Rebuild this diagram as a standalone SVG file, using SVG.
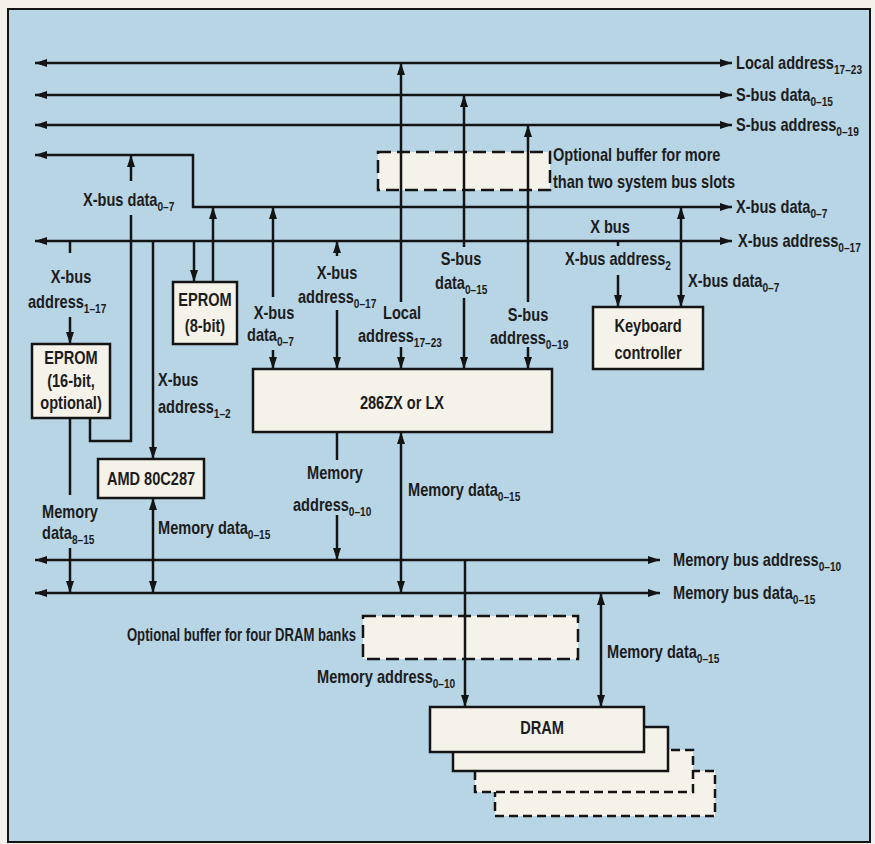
<svg xmlns="http://www.w3.org/2000/svg" width="875" height="844" viewBox="0 0 875 844">
<defs>
<style>
.ln{fill:none;stroke:#141414;stroke-width:2.5}
.box{fill:#f5f2ea;stroke:#141414;stroke-width:2.5}
.dbox{fill:#f5f2ea;stroke:#141414;stroke-width:2.5;stroke-dasharray:13 6}
.ddram{fill:#f5f2ea;stroke:#141414;stroke-width:2.5;stroke-dasharray:9 5}
.t{font-family:"Liberation Sans",Arial,sans-serif;font-weight:bold;font-size:18px;fill:#1c1c1c}
.c{text-anchor:middle}
.e{text-anchor:end}
.s{font-size:12.5px}
</style>
<marker id="ah" viewBox="0 0 12 8" refX="12" refY="4" markerWidth="12" markerHeight="8" markerUnits="userSpaceOnUse" orient="auto-start-reverse">
<path d="M0,0 L12,4 L0,8 z" fill="#141414"/>
</marker>
</defs>
<rect x="0" y="0" width="875" height="844" fill="#f2f0e8"/>
<rect x="8" y="9" width="862" height="833" fill="#b8d5e6" stroke="#141414" stroke-width="2"/>

<g id="buffer-system">
<rect class="dbox" x="378" y="152" width="172" height="38"/>
<text class="t" transform="translate(553,161) scale(0.81,1)">Optional buffer for more</text>
<text class="t" transform="translate(553,188) scale(0.81,1)">than two system bus slots</text>
</g>
<g id="buffer-dram">
<rect class="dbox" x="363" y="616" width="215" height="43"/>
<text class="t e" transform="translate(356,641) scale(0.73,1)">Optional buffer for four DRAM banks</text>
</g>

<g id="connectors">
<path class="ln" marker-start="url(#ah)" marker-end="url(#ah)" d="M35,63 H732"/>
<path class="ln" marker-start="url(#ah)" marker-end="url(#ah)" d="M35,95 H732"/>
<path class="ln" marker-start="url(#ah)" marker-end="url(#ah)" d="M35,125 H732"/>
<path class="ln" marker-start="url(#ah)" marker-end="url(#ah)" d="M35,155 H193 V207 H732"/>
<path class="ln" marker-start="url(#ah)" marker-end="url(#ah)" d="M35,241 H732"/>
<path class="ln" marker-start="url(#ah)" marker-end="url(#ah)" d="M35,560 H660"/>
<path class="ln" marker-start="url(#ah)" marker-end="url(#ah)" d="M35,593 H660"/>

<path class="ln" marker-end="url(#ah)" d="M401,302 V63"/>
<path class="ln" marker-end="url(#ah)" d="M401,347 V369"/>
<path class="ln" marker-end="url(#ah)" d="M464,247 V95"/>
<path class="ln" marker-end="url(#ah)" d="M464,298 V369"/>
<path class="ln" marker-end="url(#ah)" d="M528,302 V125"/>
<path class="ln" marker-end="url(#ah)" d="M528,347 V369"/>
<path class="ln" marker-end="url(#ah)" d="M337,256 V241"/>
<path class="ln" marker-end="url(#ah)" d="M337,310 V369"/>
<path class="ln" marker-end="url(#ah)" d="M273,297 V207"/>
<path class="ln" marker-end="url(#ah)" d="M273,350 V369"/>
<path class="ln" marker-end="url(#ah)" d="M194,241 V282"/>
<path class="ln" marker-end="url(#ah)" d="M213,282 V207"/>
<path class="ln" d="M70,241 V253"/>
<path class="ln" marker-end="url(#ah)" d="M70,317 V344"/>
<path class="ln" d="M90,418 V441 H131 V215"/>
<path class="ln" marker-end="url(#ah)" d="M131,181 V155"/>
<path class="ln" marker-end="url(#ah)" d="M153,241 V459"/>
<path class="ln" d="M70,418 V495"/>
<path class="ln" marker-end="url(#ah)" d="M70,548 V593"/>
<path class="ln" marker-start="url(#ah)" marker-end="url(#ah)" d="M153,593 V498"/>
<path class="ln" d="M337,432 V460"/>
<path class="ln" marker-end="url(#ah)" d="M337,515 V560"/>
<path class="ln" marker-start="url(#ah)" marker-end="url(#ah)" d="M401,593 V432"/>
<path class="ln" marker-end="url(#ah)" d="M465,560 V707"/>
<path class="ln" marker-start="url(#ah)" marker-end="url(#ah)" d="M601,593 V707"/>
<path class="ln" marker-start="url(#ah)" marker-end="url(#ah)" d="M681,207 V307"/>
<path class="ln" d="M618,241 V246"/>
<path class="ln" marker-end="url(#ah)" d="M618,275 V307"/>
</g>

<g id="labels">
<text class="t" transform="translate(736,69) scale(0.81,1)">Local address<tspan class="s" dy="5">17–23</tspan></text>
<text class="t" transform="translate(736,101) scale(0.81,1)">S-bus data<tspan class="s" dy="5">0–15</tspan></text>
<text class="t" transform="translate(736,131) scale(0.81,1)">S-bus address<tspan class="s" dy="5">0–19</tspan></text>
<text class="t" transform="translate(736,213) scale(0.81,1)">X-bus data<tspan class="s" dy="5">0–7</tspan></text>
<text class="t" transform="translate(738,247) scale(0.81,1)">X-bus address<tspan class="s" dy="5">0–17</tspan></text>
<text class="t" transform="translate(673,566) scale(0.81,1)">Memory bus address<tspan class="s" dy="5">0–10</tspan></text>
<text class="t" transform="translate(673,599) scale(0.81,1)">Memory bus data<tspan class="s" dy="5">0–15</tspan></text>
<text class="t c" transform="translate(610,233) scale(0.81,1)">X bus</text>
<text class="t" transform="translate(565,265) scale(0.81,1)">X-bus address<tspan class="s" dy="5">2</tspan></text>
<text class="t" transform="translate(688,287) scale(0.81,1)">X-bus data<tspan class="s" dy="5">0–7</tspan></text>
<text class="t" transform="translate(83,206) scale(0.81,1)">X-bus data<tspan class="s" dy="5">0–7</tspan></text>
<text class="t c" transform="translate(71,283) scale(0.81,1)">X-bus</text>
<text class="t" transform="translate(28,308) scale(0.81,1)">address<tspan class="s" dy="5">1–17</tspan></text>
<text class="t c" transform="translate(274,319) scale(0.81,1)">X-bus</text>
<text class="t" transform="translate(247,341) scale(0.81,1)">data<tspan class="s" dy="5">0–7</tspan></text>
<text class="t c" transform="translate(337,279) scale(0.81,1)">X-bus</text>
<text class="t" transform="translate(298,303) scale(0.81,1)">address<tspan class="s" dy="5">0–17</tspan></text>
<text class="t c" transform="translate(402,319) scale(0.81,1)">Local</text>
<text class="t" transform="translate(358,342) scale(0.81,1)">address<tspan class="s" dy="5">17–23</tspan></text>
<text class="t c" transform="translate(461,265) scale(0.81,1)">S-bus</text>
<text class="t" transform="translate(435,289) scale(0.81,1)">data<tspan class="s" dy="5">0–15</tspan></text>
<text class="t c" transform="translate(528,321) scale(0.81,1)">S-bus</text>
<text class="t" transform="translate(490,344) scale(0.81,1)">address<tspan class="s" dy="5">0–19</tspan></text>
<text class="t" transform="translate(158,386) scale(0.81,1)">X-bus</text>
<text class="t" transform="translate(158,413) scale(0.81,1)">address<tspan class="s" dy="5">1–2</tspan></text>
<text class="t c" transform="translate(70,518) scale(0.81,1)">Memory</text>
<text class="t" transform="translate(42,539) scale(0.81,1)">data<tspan class="s" dy="5">8–15</tspan></text>
<text class="t" transform="translate(158,534) scale(0.81,1)">Memory data<tspan class="s" dy="5">0–15</tspan></text>
<text class="t c" transform="translate(335,479) scale(0.81,1)">Memory</text>
<text class="t" transform="translate(293,511) scale(0.81,1)">address<tspan class="s" dy="5">0–10</tspan></text>
<text class="t" transform="translate(408,496) scale(0.81,1)">Memory data<tspan class="s" dy="5">0–15</tspan></text>
<text class="t" transform="translate(317,683) scale(0.81,1)">Memory address<tspan class="s" dy="5">0–10</tspan></text>
<text class="t" transform="translate(607,658) scale(0.81,1)">Memory data<tspan class="s" dy="5">0–15</tspan></text>
</g>

<g id="eprom-8">
<rect class="box" x="173" y="282" width="64" height="62"/>
<text class="t c" transform="translate(205,306) scale(0.81,1)">EPROM</text>
<text class="t c" transform="translate(205,332) scale(0.81,1)">(8-bit)</text>
</g>
<g id="eprom-16">
<rect class="box" x="32" y="344" width="78" height="74"/>
<text class="t c" transform="translate(71,364) scale(0.81,1)">EPROM</text>
<text class="t c" transform="translate(71,387) scale(0.81,1)">(16-bit,</text>
<text class="t c" transform="translate(71,409) scale(0.81,1)">optional)</text>
</g>
<g id="amd-80c287">
<rect class="box" x="98" y="459" width="106" height="39"/>
<text class="t c" transform="translate(151,485) scale(0.81,1)">AMD 80C287</text>
</g>
<g id="cpu-286">
<rect class="box" x="253" y="369" width="299" height="63"/>
<text class="t c" transform="translate(402,409) scale(0.81,1)">286ZX or LX</text>
</g>
<g id="keyboard">
<rect class="box" x="593" y="307" width="110" height="62"/>
<text class="t c" transform="translate(648,332) scale(0.81,1)">Keyboard</text>
<text class="t c" transform="translate(648,359) scale(0.81,1)">controller</text>
</g>
<g id="dram">
<rect class="ddram" x="495" y="771" width="220" height="45"/>
<rect class="ddram" x="475" y="750" width="218" height="42"/>
<rect class="box" x="453" y="727" width="215" height="44"/>
<rect class="box" x="430" y="707" width="214" height="45"/>
<text class="t c" transform="translate(542,734) scale(0.81,1)">DRAM</text>
</g>
</svg>
